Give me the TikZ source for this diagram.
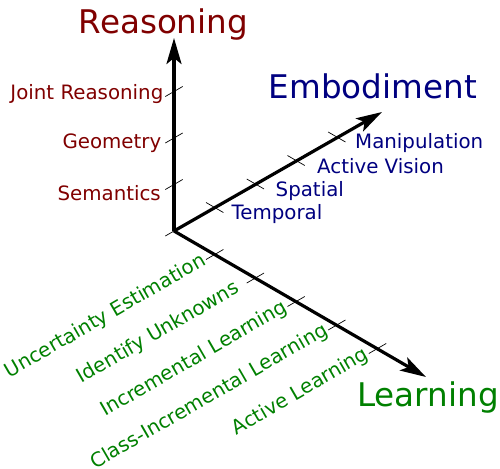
\documentclass[tikz,border=0pt]{standalone}
\usepackage{fontspec}
\setmainfont{DejaVu Sans}
\usetikzlibrary{arrows.meta,calc}
\definecolor{reasoncol}{HTML}{800000}
\definecolor{embodcol}{HTML}{000080}
\definecolor{learncol}{HTML}{008000}
\begin{document}
\begin{tikzpicture}[x=1pt,y=-1pt,
  axisline/.style={line width=3.2pt,-{Stealth[length=26pt,width=15pt,inset=6pt]}},
  tickmark/.style={line width=0.7pt},
  biglabel/.style={font=\fontsize{32.6}{38}\selectfont,inner sep=0pt,anchor=base west},
  smalllabel/.style={font=\fontsize{19.8}{23}\selectfont,inner sep=0pt},
  rlabel/.style={smalllabel,text=reasoncol,anchor=base east},
  elabel/.style={smalllabel,text=embodcol,anchor=base west},
  llabel/.style={smalllabel,text=learncol,anchor=east,rotate=30,inner sep=2pt},
]
\useasboundingbox (0,0) rectangle (500,468);
% axes end points
\coordinate (O) at (174,231);
\coordinate (Rtip) at (174,38);
\coordinate (Etip) at (382,112);
\coordinate (Ltip) at (426,377);
% tick points
\foreach \k in {0,1,2,3} \coordinate (r\k) at ($(O)+(-90:46.5*\k)$);
\foreach \k in {1,2,3,4} \coordinate (e\k) at ($(O)+(-30:47*\k)$);
\foreach \k in {1,2,3,4,5} \coordinate (l\k) at ($(O)+(30:47*\k)$);
% ticks
\foreach \k in {0,1,2,3} \draw[tickmark] ($(r\k)+(150:10)$) -- ($(r\k)+(-30:10)$);
\foreach \k in {1,2,3,4} \draw[tickmark] ($(e\k)+(210:10)$) -- ($(e\k)+(30:10)$);
\foreach \k in {1,2,3,4,5} \draw[tickmark] ($(l\k)+(150:10)$) -- ($(l\k)+(-30:10)$);
% axes
\draw[axisline] (O) -- (Rtip);
\draw[axisline] (O) -- (Etip);
\draw[axisline] (O) -- (Ltip);
% axis titles
\node[biglabel,text=reasoncol] (reasoning) at (78.6,33.3) {Reasoning};
\node[biglabel,text=embodcol] (embodiment) at (268.6,98.3) {Embodiment};
\node[biglabel,text=learncol] (learning) at (357,406) {Learning};
% reasoning labels
\node[rlabel] (semantics) at (161,200) {Semantics};
\node[rlabel] (geometry) at (161.5,148) {Geometry};
\node[rlabel] (joint) at (163.5,100) {Joint Reasoning};
% embodiment labels
\node[elabel] (temporal) at (231.5,219) {Temporal};
\node[elabel] (spatial) at (275.5,196) {Spatial};
\node[elabel] (activevision) at (317,173) {Active Vision};
\node[elabel] (manipulation) at (355,148) {Manipulation};
% learning labels
\node[llabel] (uncertainty) at ($(l1)+(150:10)+(0,-1)$) {Uncertainty Estimation};
\node[llabel] (unknowns) at ($(l2)+(150:18)+(0,-1)$) {Identify Unknowns};
\node[llabel] (incremental) at ($(l3)+(150:10)+(0,-1)$) {Incremental Learning};
\node[llabel] (classinc) at ($(l4)+(150:10)+(0,-1.5)$) {Class-Incremental Learning};
\node[llabel] (activelearning) at ($(l5)+(150:10)+(0,-1)$) {Active Learning};
\end{tikzpicture}
\end{document}
